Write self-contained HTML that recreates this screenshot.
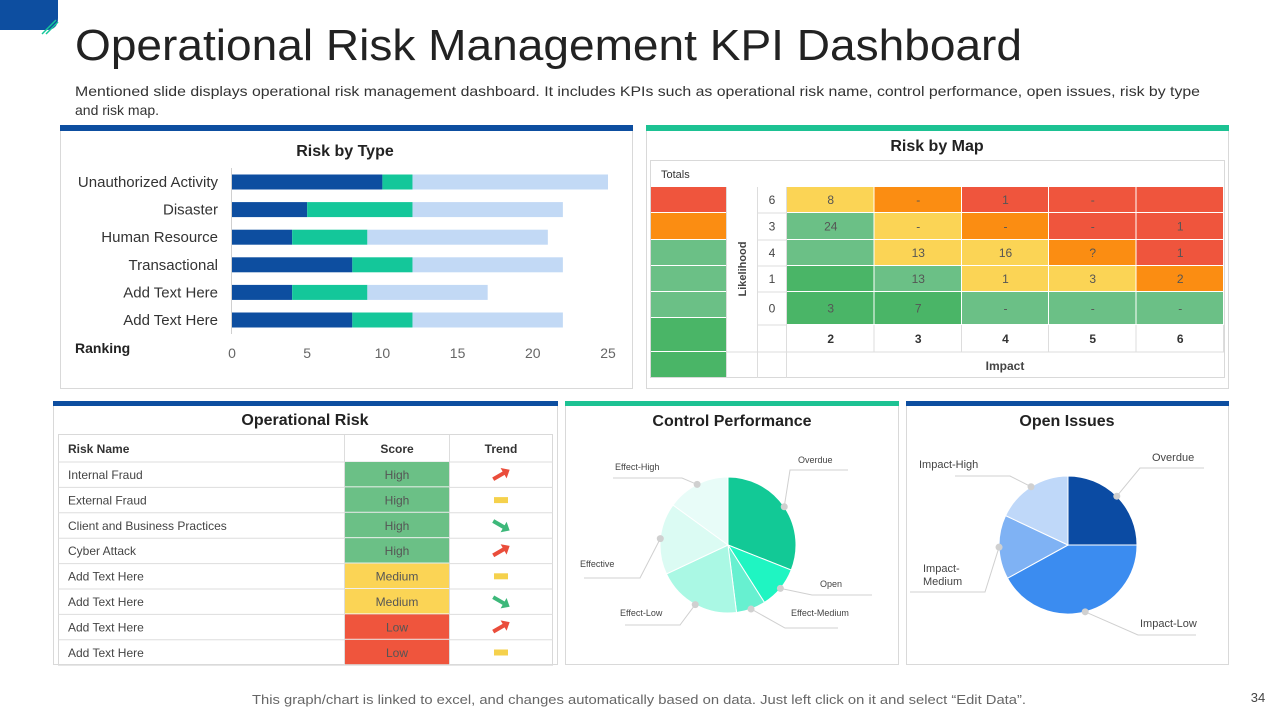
<!DOCTYPE html>
<html><head><meta charset="utf-8">
<style>
body{margin:0;background:#fff;}
svg{display:block;font-family:"Century Gothic","Liberation Sans",sans-serif;}
</style></head>
<body>
<svg id="s" width="1280" height="720" viewBox="0 0 1280 720" xmlns="http://www.w3.org/2000/svg">
  <path d="M0 0 H58 V18 Q58 30 46 30 H0 Z" fill="#0d4ea0"/>
  <line x1="42" y1="34" x2="56" y2="20" stroke="#14c79a" stroke-width="1.5"/>
  <line x1="46" y1="34" x2="58" y2="22" stroke="#14c79a" stroke-width="1.5"/>
  <text x="75" y="60" font-size="44" fill="#222" textLength="947" lengthAdjust="spacingAndGlyphs">Operational Risk Management KPI Dashboard</text>
  <text x="75" y="96" font-size="14" fill="#333" textLength="1125" lengthAdjust="spacingAndGlyphs">Mentioned slide displays operational risk management dashboard. It includes KPIs such as operational risk name, control performance, open issues, risk by type</text>
  <text x="75" y="115" font-size="14" fill="#333">and risk map.</text>

  <rect x="60.5" y="130.5" width="572" height="258" fill="#fff" stroke="#d9d9d9"/>
  <rect x="60" y="125" width="573" height="6" fill="#0d4ea0"/>
  <rect x="646.5" y="130.5" width="582" height="258" fill="#fff" stroke="#d9d9d9"/>
  <rect x="646" y="125" width="583" height="6" fill="#1dc293"/>
  <rect x="53.5" y="405.5" width="504" height="259" fill="#fff" stroke="#d9d9d9"/>
  <rect x="53" y="401" width="505" height="5" fill="#0d4ea0"/>
  <rect x="565.5" y="405.5" width="333" height="259" fill="#fff" stroke="#d9d9d9"/>
  <rect x="565" y="401" width="334" height="5" fill="#1dc293"/>
  <rect x="906.5" y="405.5" width="322" height="259" fill="#fff" stroke="#d9d9d9"/>
  <rect x="906" y="401" width="323" height="5" fill="#0d4ea0"/>

  <text x="345" y="156" font-size="16" font-weight="bold" fill="#222" text-anchor="middle">Risk by Type</text>
  <text x="937" y="151" font-size="16" font-weight="bold" fill="#222" text-anchor="middle">Risk by Map</text>
  <text x="305" y="425" font-size="16" font-weight="bold" fill="#222" text-anchor="middle">Operational Risk</text>
  <text x="732" y="426" font-size="16" font-weight="bold" fill="#222" text-anchor="middle">Control Performance</text>
  <text x="1067" y="426" font-size="16" font-weight="bold" fill="#222" text-anchor="middle">Open Issues</text>
  <text x="75" y="353" font-size="14" font-weight="bold" fill="#222">Ranking</text>

  <g id="bars"></g>
  <g id="map"></g>
  <g id="table"></g>
  <g id="pies"></g>

  <text x="639" y="704" font-size="13" fill="#666" text-anchor="middle" textLength="774" lengthAdjust="spacingAndGlyphs">This graph/chart is linked to excel, and changes automatically based on data. Just left click on it and select “Edit Data”.</text>
  <text x="1258" y="702" font-size="13" fill="#444" text-anchor="middle">34</text>
</svg>
<script>
// ---- Risk by Type data ----
const typeCategories = ["Unauthorized Activity","Disaster","Human Resource","Transactional","Add Text Here","Add Text Here"];
const seriesA = [10,5,4,8,4,8];
const seriesB = [2,7,5,4,5,4];
const seriesC = [13,10,12,10,8,10];
const xTicks = [0,5,10,15,20,25];
// ---- Risk map data ----
const likelihoodLabels = ["6","3","4","1","0"];
const impactLabels = ["2","3","4","5","6"];
const mapLevels = [["Y","O","R","R","R"],["G","Y","O","R","R"],["G","Y","Y","O","R"],["D","G","Y","Y","O"],["D","D","G","G","G"]];
const mapValues = [["8","-","1","-",""],["24","-","-","-","1"],["","13","16","?","1"],["","13","1","3","2"],["3","7","-","-","-"]];
const totalsLevels = ["R","O","G","G","G","D","D"];
// ---- Operational risk table ----
const riskNames = ["Internal Fraud","External Fraud","Client and Business Practices","Cyber Attack","Add Text Here","Add Text Here","Add Text Here","Add Text Here"];
const riskScores = ["High","High","High","High","Medium","Medium","Low","Low"];
const riskTrends = ["up","flat","down","up","flat","down","up","flat"];
// ---- Pies ----
const controlLabels = ["Overdue","Open","Effect-Medium","Effect-Low","Effective","Effect-High"];
const controlValues = [31,10,7,20,17,15];
const issuesLabels = ["Overdue","Impact-Low","Impact-|Medium","Impact-High"];
const issuesValues = [25,42,15,18];

const NS="http://www.w3.org/2000/svg";
function mk(parent,tag,attrs,txt){const e=document.createElementNS(NS,tag);for(const k in attrs)e.setAttribute(k,attrs[k]);if(txt!==undefined)e.textContent=txt;parent.appendChild(e);return e;}

// bars
const gb=document.getElementById('bars');
const x0=232,x1=608,xMax=25;
const xs=v=>x0+(x1-x0)*v/xMax;
const yRow=i=>182+i*27.6;
let ax=mk(gb,'line',{x1:231.5,y1:168,x2:231.5,y2:334,stroke:'#d0d0d0'});


typeCategories.forEach((c,i)=>{
  const y=yRow(i);
  let t=mk(gb,'text',{x:218,y:y+5,'font-size':15,fill:'#333','text-anchor':'end'},c);
  
  
  let acc=0;
  [[seriesA,'#0d4ea0'],[seriesB,'#14c79a'],[seriesC,'#c2d9f5']].forEach(([s,col],k)=>{
    const r=mk(gb,'rect',{x:xs(acc),y:y-7.5,width:xs(acc+s[i])-xs(acc),height:15,fill:col});
    
    
    acc+=s[i];
  });
});
xTicks.forEach(v=>{
  let t=mk(gb,'text',{x:xs(v),y:358,'font-size':14,fill:'#666','text-anchor':'middle'},v);
  
  
});

// map
const gm=document.getElementById('map');
const col={R:'#ef553d',O:'#fb8d12',Y:'#fbd455',G:'#6bc086',D:'#4ab567'};
mk(gm,'rect',{x:650.5,y:160.5,width:574,height:217,fill:'#fff',stroke:'#d9d9d9'});
let tt=mk(gm,'text',{x:661,y:178,'font-size':11,fill:'#333'},'Totals');


const tRows=[187,213,240,266,292,318,352,378];
totalsLevels.forEach((l,i)=>{
  let r=mk(gm,'rect',{x:651,y:tRows[i],width:75,height:tRows[i+1]-tRows[i]-1,fill:col[l]});
  
  
});
const colX=[787,874.5,962,1049,1136.5,1224];
const rowY=[187,213,240,266,292,325];
mapLevels.forEach((row,i)=>{
  let n=mk(gm,'text',{x:772,y:(rowY[i]+rowY[i+1])/2+4,'font-size':12,fill:'#444','text-anchor':'middle'},likelihoodLabels[i]);
  
  
  mk(gm,'line',{x1:758,y1:rowY[i+1],x2:787,y2:rowY[i+1],stroke:'#ddd'});
  row.forEach((l,j)=>{
    let r=mk(gm,'rect',{x:colX[j],y:rowY[i],width:colX[j+1]-colX[j]-1,height:rowY[i+1]-rowY[i]-1,fill:col[l]});
    
    
    let v=mk(gm,'text',{x:(colX[j]+colX[j+1])/2,y:(rowY[i]+rowY[i+1])/2+4,'font-size':12,fill:'#555','text-anchor':'middle'},mapValues[i][j]);
    
    
  });
});
mk(gm,'line',{x1:757.5,y1:187,x2:757.5,y2:378,stroke:'#ddd'});
mk(gm,'line',{x1:786.5,y1:187,x2:786.5,y2:378,stroke:'#ddd'});
mk(gm,'line',{x1:726.5,y1:187,x2:726.5,y2:378,stroke:'#ddd'});
mk(gm,'line',{x1:727,y1:352,x2:1224,y2:352,stroke:'#ddd'});
impactLabels.forEach((l,j)=>{
  mk(gm,'line',{x1:colX[j+1]-0.5,y1:325,x2:colX[j+1]-0.5,y2:352,stroke:'#ddd'});
  let t=mk(gm,'text',{x:(colX[j]+colX[j+1])/2,y:343,'font-size':12,'font-weight':'bold',fill:'#333','text-anchor':'middle'},l);
  
  
});
let lk=mk(gm,'text',{x:0,y:0,'font-size':11,'font-weight':'bold',fill:'#444','text-anchor':'middle',transform:'translate(746,269) rotate(-90)'},'Likelihood');


let im=mk(gm,'text',{x:1005,y:370,'font-size':12,'font-weight':'bold',fill:'#444','text-anchor':'middle'},'Impact');



// table
const gt=document.getElementById('table');
mk(gt,'rect',{x:58.5,y:434.5,width:494,height:230,fill:'#fff',stroke:'#d9d9d9'});
const hdr=[["Risk Name",68,'start'],["Score",397,'middle'],["Trend",501,'middle']];
hdr.forEach(h=>{let t=mk(gt,'text',{x:h[1],y:453,'font-size':12,'font-weight':'bold',fill:'#333','text-anchor':h[2]},h[0]);

});
const scoreCol={High:'#6bc086',Medium:'#fbd455',Low:'#ef553d'};
const ty=i=>462+i*25.4;
mk(gt,'line',{x1:58,y1:462,x2:553,y2:462,stroke:'#ddd'});
riskNames.forEach((n,i)=>{
  const y=ty(i);
  let r=mk(gt,'rect',{x:345,y:y,width:104,height:24.4,fill:scoreCol[riskScores[i]]});
  
  
  mk(gt,'line',{x1:58,y1:y+25.4,x2:553,y2:y+25.4,stroke:'#ddd'});
  let t=mk(gt,'text',{x:68,y:y+17,'font-size':12,fill:'#444'},n);
  
  
  let s=mk(gt,'text',{x:397,y:y+17,'font-size':12,fill:'#555','text-anchor':'middle'},riskScores[i]);
  
  
  const cx=501,cy=y+12.7;let a;
  if(riskTrends[i]==='flat'){a=mk(gt,'rect',{x:cx-7,y:cy-3,width:14,height:6,fill:'#f5d14c'});}
  else{const up=riskTrends[i]==='up';a=mk(gt,'path',{d:'M-9 -2 L3 -2 L3 -6 L10 0 L3 6 L3 2 L-9 2 Z',fill:up?'#ea4d3b':'#3db87a',transform:`translate(${cx},${cy}) rotate(${up?-30:30})`});}
  
  
});
mk(gt,'line',{x1:344.5,y1:435,x2:344.5,y2:665,stroke:'#ddd'});
mk(gt,'line',{x1:449.5,y1:435,x2:449.5,y2:665,stroke:'#ddd'});

// pies
const gp=document.getElementById('pies');
function pie(cx,cy,r,vals,labels,colors,labelPos){
  const tot=vals.reduce((a,b)=>a+b,0);let a0=0;
  vals.forEach((v,i)=>{
    const a1=a0+v/tot*2*Math.PI;
    const p=a=>[cx+r*Math.sin(a),cy-r*Math.cos(a)];
    const [sx,sy]=p(a0),[ex,ey]=p(a1);
    const s=mk(gp,'path',{d:`M${cx} ${cy} L${sx} ${sy} A${r} ${r} 0 ${a1-a0>Math.PI?1:0} 1 ${ex} ${ey} Z`,fill:colors[i],stroke:'#fff','stroke-width':1});
    
    
    a0=a1;
  });
  a0=0;
  vals.forEach((v,i)=>{
    const a1=a0+v/tot*2*Math.PI;
    const am=(a0+a1)/2;const dx=cx+r*Math.sin(am),dy=cy-r*Math.cos(am);
    const L=labelPos[i];
    mk(gp,'polyline',{points:`${dx},${dy} ${L[2]},${L[3]} ${L[4]},${L[3]}`,fill:'none',stroke:'#d0d0d0'});
    const d=mk(gp,'circle',{cx:dx,cy:dy,r:3.5,fill:'#d0d0d0'});
    
    
    labels[i].split('|').forEach((ln,k)=>{
      const t=mk(gp,'text',{x:L[0],y:L[1]+k*13,'font-size':L[5],fill:'#444'},ln);
      
      
    });
    a0=a1;
  });
}
pie(728,545,68,controlValues,controlLabels,['#12c996','#1ff5c2','#67f0d0','#aaf8e4','#dbfbf3','#e8fcf8'],
 [[798,463,790,470,848,9],[820,587,812,595,872,9],[791,616,785,628,838,9],[620,616,680,625,625,9],[580,567,640,578,584,9],[615,470,682,478,613,9]]);
pie(1068,545,69,issuesValues,issuesLabels,['#0b4ba3','#3b8cf0','#7fb2f4','#bfd8f9'],
 [[1152,461,1140,468,1204,11],[1140,627,1138,635,1196,11],[923,572,985,592,910,11],[919,468,1010,476,955,11]]);
</script>
</body></html>
